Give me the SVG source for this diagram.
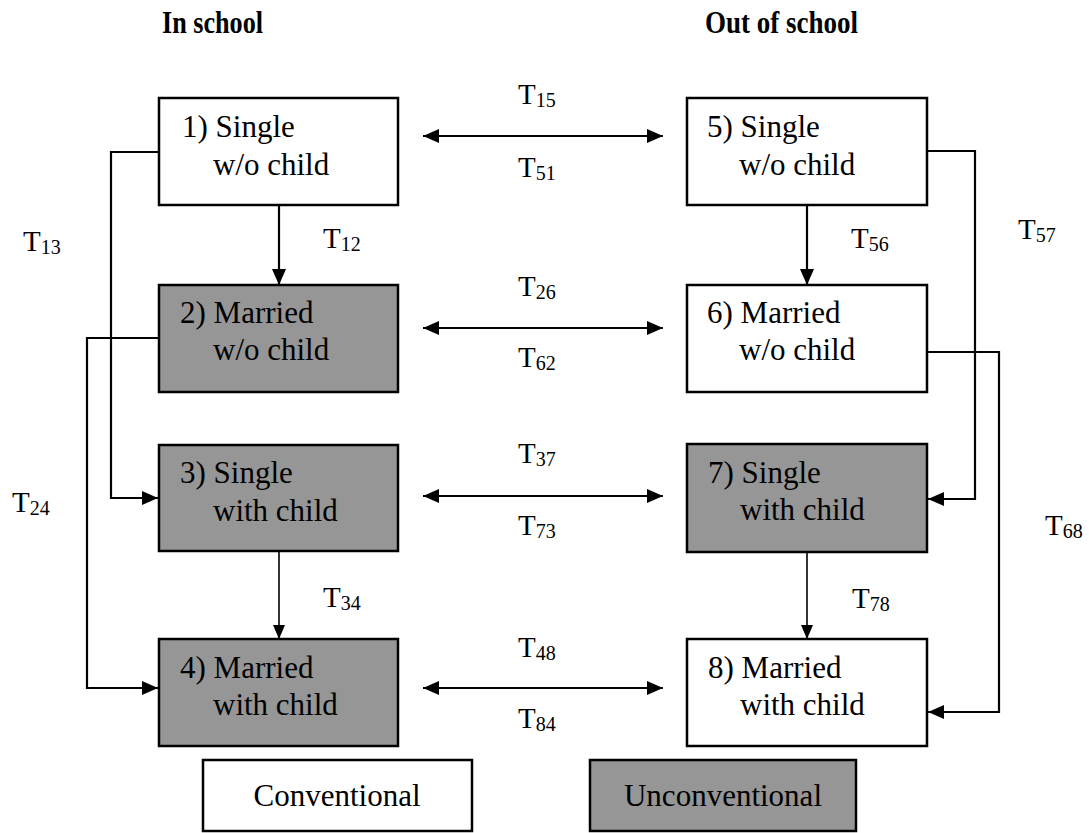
<svg xmlns="http://www.w3.org/2000/svg" width="1089" height="833" viewBox="0 0 1089 833">
<style>
text{font-family:"Liberation Serif","Times New Roman",serif;fill:#000}
.hd{font-size:32px;font-weight:bold}
.nt{font-size:31px}
.lb{font-size:29px}
.sb{font-size:20px}
.box{stroke:#000;stroke-width:2.5}
.w{fill:#fff}
.g{fill:#969696}
.ln{fill:none;stroke:#000;stroke-width:2.2}
.ln2{fill:none;stroke:#000;stroke-width:1.6}
</style>
<defs>
<marker id="ah" markerUnits="userSpaceOnUse" markerWidth="16" markerHeight="14" refX="16" refY="7" orient="auto-start-reverse" viewBox="0 0 16 14"><path d="M0,0 L16,7 L0,14 z" fill="#000"/></marker>
<marker id="ahs" markerUnits="userSpaceOnUse" markerWidth="14" markerHeight="12" refX="14" refY="6" orient="auto" viewBox="0 0 14 12"><path d="M0,0 L14,6 L0,12 z" fill="#000"/></marker>
</defs>
<g id="headers">
<text class="hd" x="162" y="33" textLength="101" lengthAdjust="spacingAndGlyphs">In school</text>
<text class="hd" x="705" y="33" textLength="153" lengthAdjust="spacingAndGlyphs">Out of school</text>
</g>
<g id="connectors">
<line class="ln" x1="279" y1="206" x2="279" y2="285" marker-end="url(#ah)"/>
<line class="ln" x1="807" y1="206" x2="807" y2="285" marker-end="url(#ah)"/>
<line class="ln2" x1="279" y1="552" x2="279" y2="639" marker-end="url(#ahs)"/>
<line class="ln2" x1="807" y1="552" x2="807" y2="639" marker-end="url(#ahs)"/>
<line class="ln" x1="423" y1="136" x2="663" y2="136" marker-start="url(#ah)" marker-end="url(#ah)"/>
<line class="ln" x1="423" y1="328" x2="663" y2="328" marker-start="url(#ah)" marker-end="url(#ah)"/>
<line class="ln" x1="423" y1="496" x2="663" y2="496" marker-start="url(#ah)" marker-end="url(#ah)"/>
<line class="ln" x1="423" y1="688" x2="663" y2="688" marker-start="url(#ah)" marker-end="url(#ah)"/>
<polyline class="ln" points="159,152 111,152 111,498 158,498" marker-end="url(#ah)"/>
<polyline class="ln" points="159,338 87,338 87,688 158,688" marker-end="url(#ah)"/>
<polyline class="ln" points="927,151 975,151 975,499 928,499" marker-end="url(#ah)"/>
<polyline class="ln" points="927,352 999,352 999,712 928,712" marker-end="url(#ah)"/>
</g>
<g id="labels">
<text class="lb" x="518" y="104">T<tspan class="sb" dy="3">15</tspan></text>
<text class="lb" x="518" y="177">T<tspan class="sb" dy="3">51</tspan></text>
<text class="lb" x="518" y="296">T<tspan class="sb" dy="3">26</tspan></text>
<text class="lb" x="518" y="367">T<tspan class="sb" dy="3">62</tspan></text>
<text class="lb" x="518" y="463">T<tspan class="sb" dy="3">37</tspan></text>
<text class="lb" x="518" y="535">T<tspan class="sb" dy="3">73</tspan></text>
<text class="lb" x="518" y="657">T<tspan class="sb" dy="3">48</tspan></text>
<text class="lb" x="518" y="728">T<tspan class="sb" dy="3">84</tspan></text>
<text class="lb" x="323" y="248">T<tspan class="sb" dy="3">12</tspan></text>
<text class="lb" x="851" y="248">T<tspan class="sb" dy="3">56</tspan></text>
<text class="lb" x="323" y="607">T<tspan class="sb" dy="3">34</tspan></text>
<text class="lb" x="852" y="608">T<tspan class="sb" dy="3">78</tspan></text>
<text class="lb" x="23" y="251">T<tspan class="sb" dy="3">13</tspan></text>
<text class="lb" x="12" y="512">T<tspan class="sb" dy="3">24</tspan></text>
<text class="lb" x="1018" y="239">T<tspan class="sb" dy="3">57</tspan></text>
<text class="lb" x="1045" y="535">T<tspan class="sb" dy="3">68</tspan></text>
</g>
<g id="node1"><rect class="box w" x="159" y="98" width="239" height="107"/><text class="nt" x="182" y="137">1) Single</text><text class="nt" x="213" y="175">w/o child</text></g>
<g id="node2"><rect class="box g" x="159" y="285" width="239" height="107"/><text class="nt" x="180" y="323">2) Married</text><text class="nt" x="213" y="360">w/o child</text></g>
<g id="node3"><rect class="box g" x="159" y="445" width="239" height="106"/><text class="nt" x="180" y="483">3) Single</text><text class="nt" x="213" y="521">with child</text></g>
<g id="node4"><rect class="box g" x="159" y="639" width="239" height="107"/><text class="nt" x="180" y="678">4) Married</text><text class="nt" x="213" y="715">with child</text></g>
<g id="node5"><rect class="box w" x="687" y="98" width="240" height="107"/><text class="nt" x="707" y="137">5) Single</text><text class="nt" x="739" y="175">w/o child</text></g>
<g id="node6"><rect class="box w" x="687" y="285" width="240" height="107"/><text class="nt" x="707" y="323">6) Married</text><text class="nt" x="739" y="360">w/o child</text></g>
<g id="node7"><rect class="box g" x="687" y="444" width="240" height="108"/><text class="nt" x="708" y="483">7) Single</text><text class="nt" x="740" y="520">with child</text></g>
<g id="node8"><rect class="box w" x="687" y="639" width="240" height="107"/><text class="nt" x="708" y="678">8) Married</text><text class="nt" x="740" y="715">with child</text></g>
<g id="legend-conventional"><rect class="box w" x="203" y="760" width="269" height="71"/><text class="nt" x="337" y="806" text-anchor="middle">Conventional</text></g>
<g id="legend-unconventional"><rect class="box g" x="590" y="760" width="266" height="71"/><text class="nt" x="723" y="806" text-anchor="middle">Unconventional</text></g>
</svg>
